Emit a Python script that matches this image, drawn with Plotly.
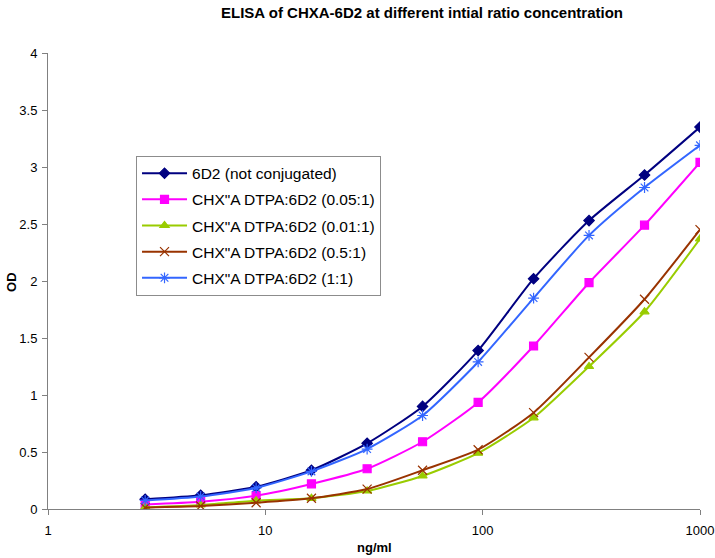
import plotly.graph_objects as go

conc = [2.80, 5.04, 9.07, 16.3, 29.4, 52.9, 95.3, 171.5, 308.6, 555.6, 1000]

od_6d2 = [0.085, 0.12, 0.195, 0.34, 0.576, 0.90, 1.39, 2.02, 2.53, 2.93, 3.35]
od_005 = [0.04, 0.064, 0.117, 0.22, 0.353, 0.59, 0.935, 1.43, 1.985, 2.49, 3.04]
od_001 = [0.015, 0.035, 0.073, 0.094, 0.158, 0.29, 0.49, 0.80, 1.25, 1.73, 2.37]
od_05 = [0.012, 0.026, 0.055, 0.094, 0.175, 0.34, 0.52, 0.845, 1.33, 1.84, 2.45]
od_11 = [0.075, 0.11, 0.185, 0.33, 0.526, 0.82, 1.29, 1.85, 2.40, 2.82, 3.19]

names = ["6D2 (not conjugated)", "CHX\"A DTPA:6D2 (0.05:1)", "CHX\"A DTPA:6D2 (0.01:1)",
         "CHX\"A DTPA:6D2 (0.5:1)", "CHX\"A DTPA:6D2 (1:1)"]
series = [od_6d2, od_005, od_001, od_05, od_11]
colors = ["#000080", "#FF00FF", "#99CC00", "#993300", "#3366FF"]
symbols = ["diamond", "square", "triangle-up", "x-thin-open", "asterisk-open"]
sizes = [8, 8, 8, 9, 9]

fig = go.Figure()
for i, (n, s, c, sym, sz) in enumerate(zip(names, series, colors, symbols, sizes)):
    fig.add_trace(go.Scatter(
        x=conc, y=s, name=n, mode="lines+markers",
        line=dict(color=c, width=2, shape="spline", smoothing=0.6),
        marker=dict(symbol=sym, size=sz, color=c, line=dict(color=c, width=1.2)),
        legendgroup=str(i),
    ))

fig.update_layout(
    width=715, height=558,
    margin=dict(l=48, r=15, t=53, b=49, autoexpand=False),
    paper_bgcolor="white", plot_bgcolor="white",
    font=dict(family="Liberation Sans, Arial, sans-serif", size=13, color="black"),
    showlegend=True,
    legend=dict(x=0.135, y=0.775, xanchor="left", yanchor="top",
                bordercolor="#8c8c8c", borderwidth=1, bgcolor="white",
                font=dict(size=15.5, color="black"), tracegroupgap=3, itemwidth=45),
    xaxis=dict(type="log", range=[0, 3], showgrid=False, zeroline=False, automargin=False,
               showline=True, linecolor="#808080", linewidth=1,
               ticks="outside", ticklen=5, tickcolor="#808080",
               tickvals=[1, 10, 100, 1000], ticktext=["1", "10", "100", "1000"],
               tickfont=dict(size=13), ticklabelstandoff=4),
    yaxis=dict(range=[0, 4], showgrid=False, zeroline=False, automargin=False,
               showline=True, linecolor="#808080", linewidth=1,
               ticks="outside", ticklen=5, tickcolor="#808080",
               tickvals=[0, 0.5, 1, 1.5, 2, 2.5, 3, 3.5, 4],
               ticktext=["0", "0.5", "1", "1.5", "2", "2.5", "3", "3.5", "4"],
               tickfont=dict(size=13), ticklabelstandoff=2),
    annotations=[
        dict(text="<b>ELISA of CHXA-6D2 at different intial ratio concentration</b>",
             xref="paper", yref="paper", x=0.5736, y=1.0899, xanchor="center", yanchor="middle",
             showarrow=False, font=dict(size=15, color="black")),
        dict(text="<b>ng/ml</b>", xref="paper", yref="paper", x=0.5, y=-0.0855,
             xanchor="center", yanchor="middle", showarrow=False, font=dict(size=13)),
        dict(text="<b>OD</b>", xref="paper", yref="paper", x=-0.0552, y=0.498,
             xanchor="center", yanchor="middle", textangle=-90, showarrow=False,
             font=dict(size=13)),
    ],
)

fig.write_html("out.html", config={"displayModeBar": False},
               post_script="document.body.style.margin='0';")
